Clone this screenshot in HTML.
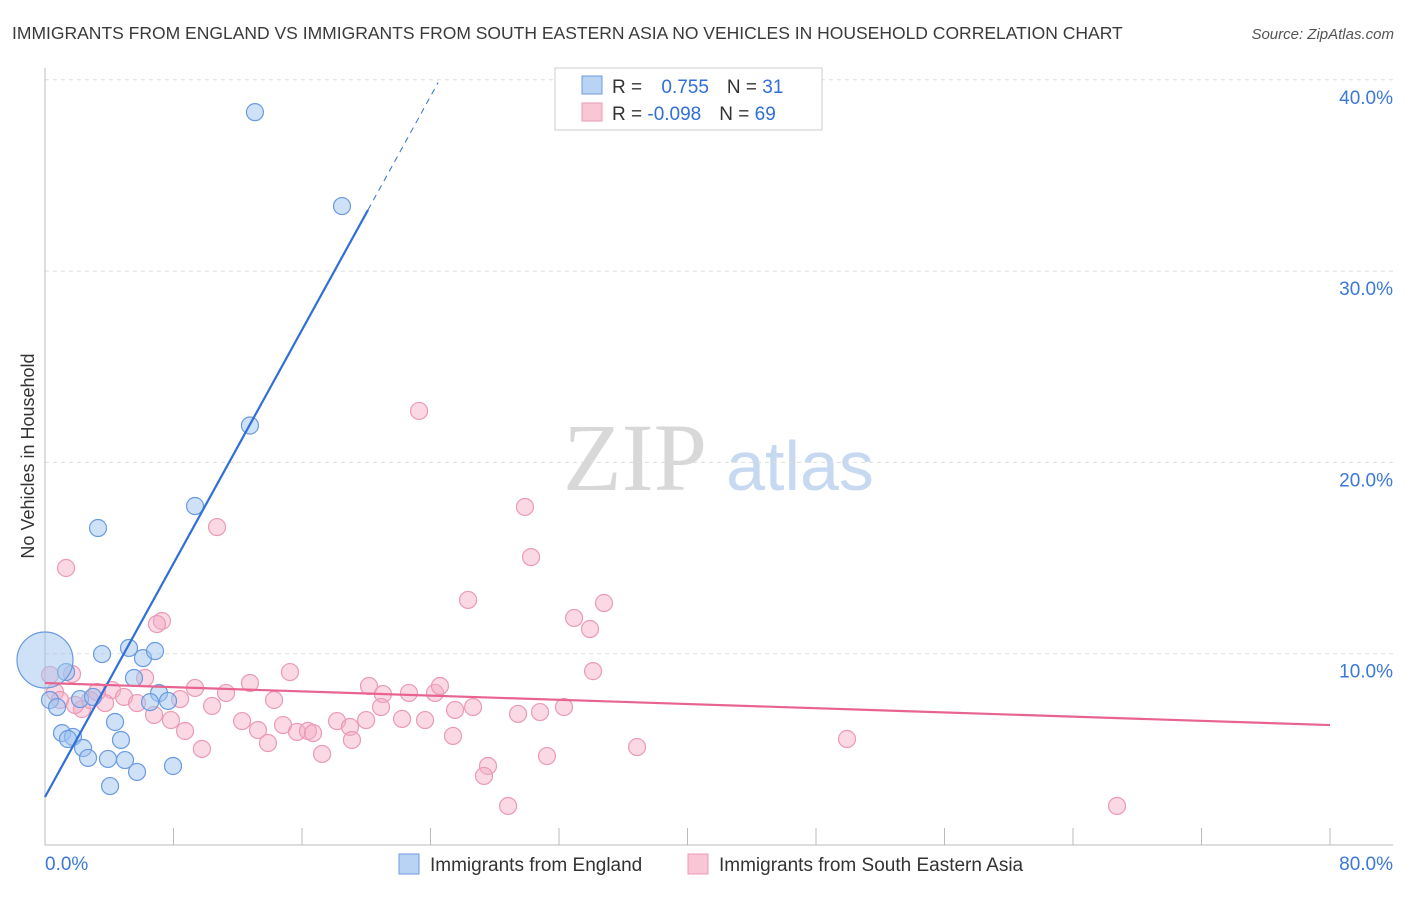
<!DOCTYPE html>
<html><head><meta charset="utf-8"><style>
body{margin:0;background:#fff;font-family:"Liberation Sans",sans-serif;}
</style></head><body>
<svg id="chart" width="1406" height="892" xmlns="http://www.w3.org/2000/svg" style="font-family:'Liberation Sans',sans-serif">
<text x="12" y="39" font-size="17.5" fill="#3a3a3a">IMMIGRANTS FROM ENGLAND VS IMMIGRANTS FROM SOUTH EASTERN ASIA NO VEHICLES IN HOUSEHOLD CORRELATION CHART</text>
<text x="1394" y="39" font-size="15" fill="#555" text-anchor="end" font-style="italic">Source: ZipAtlas.com</text>
<text x="34" y="456" font-size="18" fill="#333" text-anchor="middle" transform="rotate(-90 34 456)">No Vehicles in Household</text>
<g><text x="635" y="490" font-size="96" fill="#d8d8d8" text-anchor="middle" font-family="Liberation Serif,serif">ZIP</text><text x="800" y="490" font-size="70" fill="#c6d9f1" text-anchor="middle">atlas</text></g>
<g id="grid"></g><g id="axes"></g><g id="pts"></g><g id="trend"></g>
<g>
<rect x="555" y="68" width="267" height="62" fill="#fff" stroke="#ccc"/>
<rect x="582" y="76" width="20" height="18" fill="#b9d3f5" stroke="#6e9be0"/>
<rect x="582" y="103" width="20" height="18" fill="#f9c6d6" stroke="#e99ab5"/>
<text x="612" y="93" font-size="19" fill="#333">R = <tspan fill="#2f6fd6" dx="14">0.755</tspan><tspan fill="#333" dx="18">N = </tspan><tspan fill="#2f6fd6">31</tspan></text>
<text x="612" y="120" font-size="19" fill="#333">R = <tspan fill="#2f6fd6">-0.098</tspan><tspan fill="#333" dx="18">N = </tspan><tspan fill="#2f6fd6">69</tspan></text>
</g>
<g>
<rect x="399" y="854" width="20" height="20" fill="#b9d3f5" stroke="#6e9be0"/>
<text x="430" y="871" font-size="19" fill="#333">Immigrants from England</text>
<rect x="688" y="854" width="20" height="20" fill="#f9c6d6" stroke="#e99ab5"/>
<text x="719" y="871" font-size="19" fill="#333">Immigrants from South Eastern Asia</text>
</g>
</svg>
<script>
const yTicks=[10,20,30,40];
const xTickLabels=["0.0%","80.0%"];
const englandX=[13.07,18.49,12.76,9.34,3.30,5.23,5.54,3.55,6.10,6.85,1.31,0.31,0.75,2.18,2.99,7.10,6.54,7.66,1.06,1.74,1.43,4.36,2.37,2.68,4.73,3.92,4.98,5.73,7.97,4.05,0];
const englandY=[38.31,33.40,21.93,17.72,16.57,10.30,8.73,9.98,9.77,10.14,9.04,7.58,7.21,7.63,7.74,7.94,7.47,7.53,5.85,5.65,5.54,6.43,5.07,4.55,5.49,4.50,4.44,3.82,4.13,3.08,9.67];
const seaX=[23.29,29.88,30.26,10.71,1.31,26.34,34.80,32.94,33.93,34.12,7.28,6.97,15.25,12.76,9.34,6.23,1.68,0.62,4.17,4.92,5.73,3.74,2.30,2.80,8.41,11.27,14.26,20.17,21.04,22.66,24.28,24.59,6.79,7.84,10.40,8.72,12.27,13.26,14.82,15.69,16.37,16.69,17.25,18.18,18.99,19.99,20.92,22.23,23.66,25.53,26.65,29.45,30.82,32.31,25.40,19.11,13.88,9.77,27.58,27.33,31.25,36.86,49.93,28.83,66.74,0.31,3.24,0.93,1.87];
const seaY=[22.69,17.67,15.05,16.62,14.48,12.81,12.65,11.87,11.29,9.09,11.71,11.55,9.04,8.47,8.21,8.73,8.94,8.00,8.10,7.74,7.42,7.42,7.11,7.58,7.63,7.95,7.58,8.31,7.89,7.95,7.95,8.31,6.80,6.53,7.27,5.96,6.48,6.01,6.27,5.91,5.96,5.85,4.76,6.48,6.17,6.53,7.21,6.59,6.53,7.06,7.21,6.85,6.95,7.21,5.70,5.49,5.33,5.02,4.13,3.61,4.65,5.12,5.54,2.04,2.04,8.89,8.00,7.58,7.32];
const englandTrend=[2.51,1.526]; // intercept, slope
const englandTrendSolidEnd=20.11, englandTrendDashEnd=24.47;
const seaTrend=[8.47,-0.0275];
const X=v=>45+v/80*1285, Y=v=>845-v*19.13;
const NS="http://www.w3.org/2000/svg";
function mk(tag,attrs,parent){const e=document.createElementNS(NS,tag);for(const k in attrs)e.setAttribute(k,attrs[k]);parent.appendChild(e);return e;}
const grid=document.getElementById('grid'),axes=document.getElementById('axes'),pts=document.getElementById('pts'),tr=document.getElementById('trend');
yTicks.forEach(t=>{
 const l=mk('line',{x1:45,x2:1393,y1:Y(t),y2:Y(t),stroke:'#ddd','stroke-dasharray':'4,4'},grid);
 
 
 const tx=mk('text',{x:1393,y:Y(t)+24,'font-size':19,fill:'#3b78d8','text-anchor':'end'},axes);
 tx.textContent=t.toFixed(1)+'%';
 
 
});
const ax=mk('line',{x1:45,x2:1393,y1:845,y2:845,stroke:'#bbb'},axes);


const ay=mk('line',{x1:45,x2:45,y1:68,y2:845,stroke:'#bbb'},axes);


for(let i=0;i<=10;i++){const v=i*8;const t=mk('line',{x1:X(v),x2:X(v),y1:828,y2:845,stroke:'#bbb'},axes);
 
 }
const xl0=mk('text',{x:45,y:870,'font-size':19,fill:'#3b78d8'},axes);xl0.textContent=xTickLabels[0];


const xl1=mk('text',{x:1393,y:870,'font-size':19,fill:'#3b78d8','text-anchor':'end'},axes);xl1.textContent=xTickLabels[1];


seaX.forEach((x,i)=>{const c=mk('circle',{cx:X(x),cy:Y(seaY[i]),r:8.5,fill:'rgba(245,170,195,0.45)',stroke:'#eb9ab5','stroke-width':1.2},pts);
 
 });
englandX.forEach((x,i)=>{const c=mk('circle',{cx:X(x),cy:Y(englandY[i]),r:i==englandX.length-1?28:8.5,fill:'rgba(160,195,240,0.5)',stroke:'#6a9ae0','stroke-width':1.2},pts);
 
 });
const ey=x=>englandTrend[0]+englandTrend[1]*x;
const l1=mk('line',{x1:X(0),y1:Y(ey(0)),x2:X(englandTrendSolidEnd),y2:Y(ey(englandTrendSolidEnd)),stroke:'#2f6fd6','stroke-width':2.2},tr);


const l2=mk('line',{x1:X(englandTrendSolidEnd),y1:Y(ey(englandTrendSolidEnd)),x2:X(englandTrendDashEnd),y2:Y(ey(englandTrendDashEnd)),stroke:'#2f6fd6','stroke-width':1,'stroke-dasharray':'6,5'},tr);


const sy=x=>seaTrend[0]+seaTrend[1]*x;
const l3=mk('line',{x1:X(0),y1:Y(sy(0)),x2:X(80),y2:Y(sy(80)),stroke:'#e8648f','stroke-width':2.2},tr);


</script>
</body></html>
